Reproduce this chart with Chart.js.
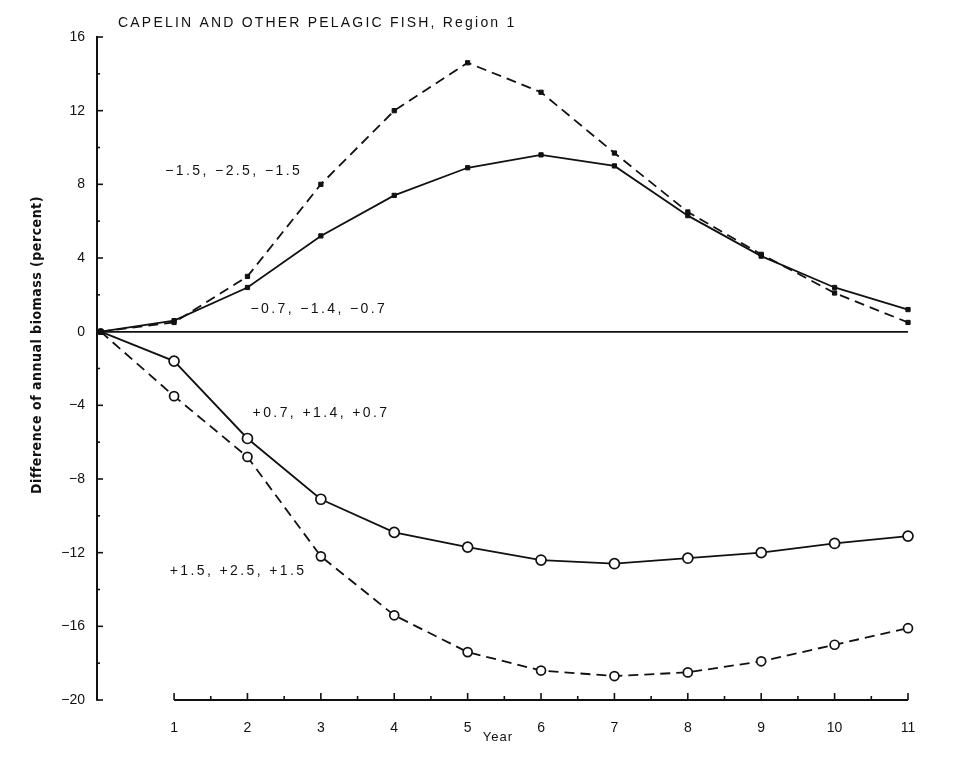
<!DOCTYPE html>
<html>
<head>
<meta charset="utf-8">
<script src="https://cdn.jsdelivr.net/npm/chart.js@4.4.1/dist/chart.umd.min.js"></script>
<style>
  html, body { margin: 0; padding: 0; background: #fff; }
  #wrap { width: 974px; height: 757px; }
</style>
</head>
<body>
<div id="wrap"><canvas id="myChart" width="974" height="757"></canvas></div>
<script>
// Datos
const years = [0, 1, 2, 3, 4, 5, 6, 7, 8, 9, 10, 11];
const tempA = [0, 0.5, 3.0, 8.0, 12.0, 14.6, 13.0, 9.7, 6.5, 4.2, 2.1, 0.5];        // -1.5, -2.5, -1.5
const tempB = [0, 0.6, 2.4, 5.2, 7.4, 8.9, 9.6, 9.0, 6.3, 4.1, 2.4, 1.2];          // -0.7, -1.4, -0.7
const tempC = [0, -1.6, -5.8, -9.1, -10.9, -11.7, -12.4, -12.6, -12.3, -12.0, -11.5, -11.1]; // +0.7, +1.4, +0.7
const tempD = [0, -3.5, -6.8, -12.2, -15.4, -17.4, -18.4, -18.7, -18.5, -17.9, -17.0, -16.1]; // +1.5, +2.5, +1.5
const seriesNames = ['\u22121.5, \u22122.5, \u22121.5', '\u22120.7, \u22121.4, \u22120.7', '+0.7, +1.4, +0.7', '+1.5, +2.5, +1.5'];
const yTicks = [16, 12, 8, 4, 0, -4, -8, -12, -16, -20];
const xTicks = [1, 2, 3, 4, 5, 6, 7, 8, 9, 10, 11];

const toPts = arr => years.map((y, i) => ({ x: y, y: arr[i] }));

// donde van las etiquetas de cada curva (en unidades del grafico)
const labelSpots = [
  { x: 0.88, y: 8.7 },
  { x: 2.04, y: 1.2 },
  { x: 2.07, y: -4.45 },
  { x: 0.94, y: -13.0 }
];

const ink = '#111';
const font = '"Liberation Sans", Arial, sans-serif';

const extras = {
  id: 'extras',
  afterDraw(chart) {
    const c = chart.ctx, xs = chart.scales.x, ys = chart.scales.y, a = chart.chartArea;
    c.save();
    c.strokeStyle = ink;
    c.fillStyle = ink;

    // eje x: solo de 1 a 11, con marcas hacia arriba
    c.lineWidth = 2;
    c.beginPath();
    c.moveTo(xs.getPixelForValue(1), a.bottom);
    c.lineTo(xs.getPixelForValue(11), a.bottom);
    c.stroke();
    c.lineWidth = 1.6;
    for (let v = 1; v <= 11; v += 0.5) {
      const px = xs.getPixelForValue(v);
      const len = Number.isInteger(v) ? 7 : 4;
      c.beginPath();
      c.moveTo(px, a.bottom);
      c.lineTo(px, a.bottom - len);
      c.stroke();
    }

    // marcas del eje y hacia dentro
    for (let v = -20; v <= 16; v += 2) {
      const py = ys.getPixelForValue(v);
      const len = v % 4 === 0 ? 6 : 3;
      c.beginPath();
      c.moveTo(a.left, py);
      c.lineTo(a.left + len, py);
      c.stroke();
    }

    // titulo
    c.font = '14px ' + font;
    c.letterSpacing = '2.2px';
    c.textBaseline = 'middle';
    c.textAlign = 'left';
    c.fillText('CAPELIN AND OTHER PELAGIC FISH, Region 1', 118, 23);

    // etiquetas de las curvas
    c.font = '14px ' + font;
    c.letterSpacing = '2.4px';
    seriesNames.forEach((t, i) => {
      c.fillText(t, xs.getPixelForValue(labelSpots[i].x), ys.getPixelForValue(labelSpots[i].y));
    });

    // titulo eje x
    c.letterSpacing = '1px';
    c.font = '13px ' + font;
    c.textAlign = 'center';
    c.fillText('Year', 498, 737);

    // titulo eje y
    c.translate(37, 345);
    c.rotate(-Math.PI / 2);
    c.font = 'bold 14px "DejaVu Sans Condensed", "DejaVu Sans", sans-serif';
    c.letterSpacing = '0.5px';
    c.fillText('Difference of annual biomass (percent)', 0, 0);
    c.restore();
  }
};

const ctx = document.getElementById('myChart').getContext('2d');
const myChart = new Chart(ctx, {
  type: 'line',
  data: {
    datasets: [
      {
        label: seriesNames[0],
        data: toPts(tempA),
        borderColor: ink, backgroundColor: ink,
        borderWidth: 1.8, borderDash: [10, 6],
        pointStyle: 'rect', pointRadius: 3, pointBorderWidth: 1
      },
      {
        label: seriesNames[1],
        data: toPts(tempB),
        borderColor: ink, backgroundColor: ink,
        borderWidth: 1.8,
        pointStyle: 'rect', pointRadius: 3, pointBorderWidth: 1
      },
      {
        label: seriesNames[2],
        data: toPts(tempC),
        borderColor: ink, backgroundColor: '#fff',
        borderWidth: 1.8,
        pointStyle: 'circle',
        pointRadius: c => c.dataIndex === 0 ? 2.5 : 5, pointBorderWidth: 1.7
      },
      {
        label: seriesNames[3],
        data: toPts(tempD),
        borderColor: ink, backgroundColor: '#fff',
        borderWidth: 1.8, borderDash: [10, 6],
        pointStyle: 'circle',
        pointRadius: c => c.dataIndex === 0 ? 2.5 : 4.5, pointBorderWidth: 1.7
      }
    ]
  },
  options: {
    responsive: false,
    animation: false,
    clip: false,
    layout: { padding: { left: 0, right: 66, top: 37, bottom: 0 } },
    plugins: {
      legend: { display: false },
      tooltip: { enabled: false }
    },
    scales: {
      x: {
        type: 'linear',
        min: -0.05,
        max: 11,
        afterBuildTicks: s => { s.ticks = xTicks.map(v => ({ value: v })); },
        afterFit: s => { s.height = 57; },
        border: { display: false },
        grid: { display: false },
        ticks: {
          color: ink,
          padding: 12,
          maxRotation: 0,
          font: { family: font, size: 14 }
        }
      },
      y: {
        min: -20,
        max: 16,
        afterBuildTicks: s => { s.ticks = yTicks.map(v => ({ value: v })); },
        afterFit: s => { s.width = 97; },
        border: { display: true, color: ink, width: 2 },
        grid: {
          drawTicks: false,
          lineWidth: 1.8,
          color: c => c.tick && c.tick.value === 0 ? ink : 'rgba(0,0,0,0)'
        },
        ticks: {
          color: ink,
          padding: 12,
          font: { family: font, size: 14 },
          callback: v => (v < 0 ? '\u2212' + Math.abs(v) : String(v))
        }
      }
    }
  },
  plugins: [extras]
});
</script>
</body>
</html>
